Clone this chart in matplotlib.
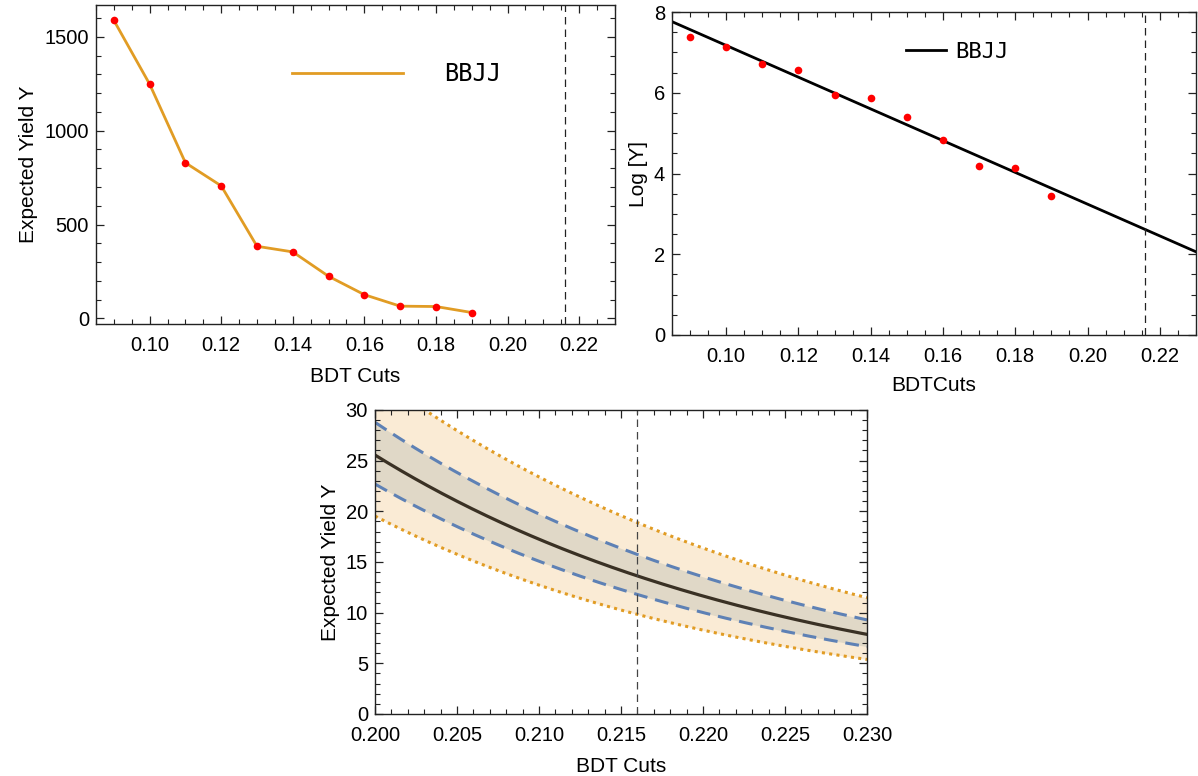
import numpy as np
import matplotlib
matplotlib.use("Agg")
import matplotlib.pyplot as plt
from matplotlib.ticker import MultipleLocator, FormatStrFormatter

plt.rcParams['font.family'] = ['Liberation Sans', 'DejaVu Sans']

# BDT cut scan and expected BBJJ yield at each cut
bdt_cuts = [0.09, 0.10, 0.11, 0.12, 0.13, 0.14, 0.15, 0.16, 0.17, 0.18, 0.19]
yields = [1588, 1248, 829, 706, 384, 354, 224, 126, 65, 63, 31]
chosen_cut = 0.216
legend_name = "BBJJ"
T95 = 2.262  # Student t, 95% two-sided, 9 dof

ORANGE = '#E19C24'
BLUE = '#5E81B5'
DARK = '#3a3124'

x = np.array(bdt_cuts)
logy = np.log(np.array(yields, dtype=float))

# linear fit of log(Y) vs cut, with mean-prediction bands
slope, icept = np.polyfit(x, logy, 1)
resid = logy - (icept + slope * x)
n = len(x)
s = np.sqrt(np.sum(resid ** 2) / (n - 2))
sxx = np.sum((x - x.mean()) ** 2)


def fit_band(xs):
    mu = icept + slope * xs
    se = s * np.sqrt(1.0 / n + (xs - x.mean()) ** 2 / sxx)
    return mu, se


def frame(ax, xpad=9):
    for sp in ax.spines.values():
        sp.set_linewidth(1.0)
        sp.set_color('#222222')
    ax.tick_params(which='both', direction='in', top=True, right=True,
                   labelsize=14.5, color='#222222')
    ax.tick_params(which='major', length=6, width=0.9)
    ax.tick_params(which='minor', length=3.5, width=0.8)
    ax.tick_params(axis='x', pad=xpad)
    ax.tick_params(axis='y', pad=5)


fig = plt.figure(figsize=(11.98, 7.76), dpi=100)

# yield vs cut
ax1 = fig.add_axes([0.0801, 0.5825, 0.4332, 0.4111])
ax1.plot(x, yields, color=ORANGE, lw=2, label=legend_name)
ax1.plot(x, yields, 'o', color='red', ms=5.5, mec='none')
ax1.axvline(chosen_cut, color='#222222', lw=0.9, ls=(0, (6, 4)))
ax1.set_xlim(0.085, 0.23)
ax1.set_ylim(-30, 1670)
ax1.xaxis.set_major_locator(MultipleLocator(0.02))
ax1.xaxis.set_minor_locator(MultipleLocator(0.005))
ax1.xaxis.set_major_formatter(FormatStrFormatter('%.2f'))
ax1.yaxis.set_major_locator(MultipleLocator(500))
ax1.yaxis.set_minor_locator(MultipleLocator(100))
ax1.set_xlabel('BDT Cuts', fontsize=15, labelpad=8)
ax1.set_ylabel('Expected Yield Y', fontsize=15, labelpad=5)
frame(ax1)
ax1.legend(loc='center left', bbox_to_anchor=(0.3776, 0.7837), frameon=False,
           borderpad=0, borderaxespad=0, handlelength=4.7, handletextpad=1.75,
           prop={'family': 'DejaVu Sans Mono', 'size': 17})

# log(yield) with straight-line fit
ax2 = fig.add_axes([0.5609, 0.5683, 0.4374, 0.4162])
xf = np.linspace(0.085, 0.23, 200)
ax2.plot(xf, icept + slope * xf, color='black', lw=2, label=legend_name)
ax2.plot(x, logy, 'o', color='red', ms=5.5, mec='none')
ax2.axvline(chosen_cut, color='#222222', lw=0.9, ls=(0, (6, 4)))
ax2.set_xlim(0.085, 0.23)
ax2.set_ylim(0, 8)
ax2.xaxis.set_major_locator(MultipleLocator(0.02))
ax2.xaxis.set_minor_locator(MultipleLocator(0.005))
ax2.xaxis.set_major_formatter(FormatStrFormatter('%.2f'))
ax2.yaxis.set_major_locator(MultipleLocator(2))
ax2.yaxis.set_minor_locator(MultipleLocator(0.5))
ax2.set_xlabel('BDTCuts', fontsize=15, labelpad=7)
ax2.set_ylabel('Log [Y]', fontsize=15, labelpad=4)
frame(ax2)
ax2.legend(loc='center left', bbox_to_anchor=(0.4466, 0.876), frameon=False,
           borderpad=0, borderaxespad=0, handlelength=1.8, handletextpad=0.4,
           prop={'family': 'DejaVu Sans Mono', 'size': 16})

# extrapolated yield near the chosen cut with 1-sigma and 95% bands
ax3 = fig.add_axes([0.3130, 0.0799, 0.4107, 0.3918])
xb = np.linspace(0.2, 0.23, 300)
mu, se = fit_band(xb)
ax3.fill_between(xb, np.exp(mu - T95 * se), np.exp(mu + T95 * se),
                 color='#faebd5', lw=0)
ax3.fill_between(xb, np.exp(mu - se), np.exp(mu + se), color='#e0d8c7', lw=0)
ax3.plot(xb, np.exp(mu + T95 * se), color=ORANGE, lw=2.2, ls=(0, (1, 1.4)))
ax3.plot(xb, np.exp(mu - T95 * se), color=ORANGE, lw=2.2, ls=(0, (1, 1.4)))
ax3.plot(xb, np.exp(mu + se), color=BLUE, lw=2.2, ls=(0, (4.5, 2.6)))
ax3.plot(xb, np.exp(mu - se), color=BLUE, lw=2.2, ls=(0, (4.5, 2.6)))
ax3.plot(xb, np.exp(mu), color=DARK, lw=2.3)
ax3.axvline(chosen_cut, color='#444444', lw=0.9, ls=(0, (6, 4)))
ax3.set_xlim(0.2, 0.23)
ax3.set_ylim(0, 30)
ax3.xaxis.set_major_locator(MultipleLocator(0.005))
ax3.xaxis.set_minor_locator(MultipleLocator(0.001))
ax3.xaxis.set_major_formatter(FormatStrFormatter('%.3f'))
ax3.yaxis.set_major_locator(MultipleLocator(5))
ax3.yaxis.set_minor_locator(MultipleLocator(1))
ax3.set_xlabel('BDT Cuts', fontsize=15, labelpad=8)
ax3.set_ylabel('Expected Yield Y', fontsize=15, labelpad=4)
frame(ax3)

fig.savefig('out.png', dpi=100)
